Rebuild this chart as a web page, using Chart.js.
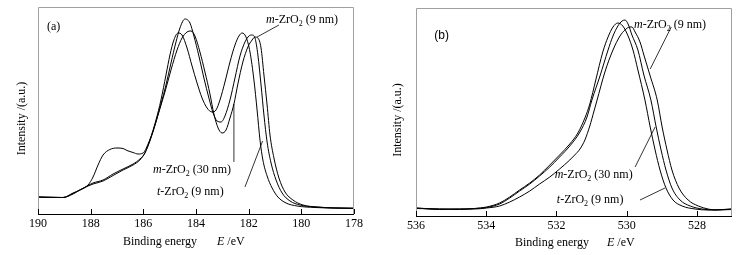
<!DOCTYPE html>
<html><head><meta charset="utf-8">
<script src="https://cdn.jsdelivr.net/npm/chart.js@4/dist/chart.umd.min.js"></script>
<style>
html,body{margin:0;padding:0;background:#fff;width:742px;height:255px;overflow:hidden}
#ca{position:absolute;left:0;top:0}
#cb{position:absolute;left:370px;top:0}
</style></head><body>
<canvas id="ca" width="370" height="255"></canvas>
<canvas id="cb" width="372" height="255"></canvas>
<script>
// ---------- tick labels ----------
const ticksA = [190, 188, 186, 184, 182, 180, 178];
const ticksB = [536, 534, 532, 530, 528];

// ---------- series labels ----------
const seriesNames = ['t-ZrO2 (9 nm)', 'm-ZrO2 (30 nm)', 'm-ZrO2 (9 nm)'];

// ---------- panel (a): Zr 3d ----------
const a1E = [190.00,189.54,189.05,188.67,188.41,188.10,187.91,187.53,187.15,186.77,186.39,186.13,185.94,185.75,185.52,185.33,185.14,184.99,184.84,184.68,184.53,184.34,184.15,183.96,183.77,183.58,183.39,183.24,183.09,182.90,182.71,182.52,182.37,182.25,182.10,181.95,181.80,181.68,181.57,181.46,181.30,181.11,180.89,180.58,180.16,179.48,178.72,178.00];
const a1I = [17,16.5,16.5,20,24,28.5,31,34,40,45,50,55,61,74,94,114,139,159,174,181,179,166,148,131,116,106,102,104,114,132,152,169,178,181,177,162,134,104,74,54,38,26,17,11,8,6.5,6,6];

const a2E = [190.00,189.54,189.05,188.67,188.41,188.10,187.91,187.53,187.15,186.77,186.39,186.13,185.94,185.75,185.52,185.33,185.14,184.95,184.76,184.61,184.42,184.23,184.08,183.89,183.70,183.51,183.35,183.20,183.05,182.90,182.71,182.52,182.33,182.14,181.99,181.87,181.76,181.65,181.53,181.42,181.30,181.15,180.96,180.73,180.43,180.05,179.48,178.72,178.00];
const a2I = [17,16.5,16.5,20.5,24,28,30,33,38.5,44,49,54,61,73,92,110,129,151,172,186,195,191,178,158,136,116,101,93,92,98,114,136,158,172,178,179,176,159,129,99,72,51,34,21,13,9,7,6,5.5];

const a3E = [190.00,189.54,189.05,188.67,188.41,188.10,187.91,187.72,187.53,187.27,187.00,186.77,186.62,186.39,186.20,186.01,185.82,185.63,185.41,185.18,184.95,184.72,184.53,184.34,184.19,184.04,183.85,183.66,183.47,183.32,183.16,183.01,182.86,182.71,182.56,182.41,182.22,182.03,181.87,181.76,181.65,181.53,181.42,181.30,181.19,181.04,180.85,180.62,180.32,179.94,179.37,178.72,178.00];
const a3I = [17,17,16.5,21,24,29,37,49,59,64.5,66,65.5,63.5,61.5,60,61,70,83,102,122,144,164,176,182,183,178,162,142,120,100,86,81,84,96,110,130,152,167,174,177,176,166,139,109,79,56,36,22,14,9,7,6,5.5];

// ---------- panel (b): O 1s ----------
const b1E = [536.00,535.33,534.76,534.33,533.99,533.62,533.33,533.05,532.76,532.48,532.19,531.91,531.62,531.39,531.19,531.05,530.88,530.68,530.53,530.39,530.25,530.11,529.96,529.82,529.68,529.48,529.33,529.19,529.05,528.88,528.68,528.42,528.05,527.68,527.00];
const b1I = [8,7,7,7.5,9,13,19,26,33,41,51,61,72,83,98,112,136,164,179,189,193,190,180,166,146,116,89,66,46,28,16,10,7,6,7];

const b2E = [536.00,535.33,534.76,534.33,533.99,533.62,533.33,533.05,532.76,532.48,532.19,531.91,531.62,531.33,531.13,530.99,530.76,530.53,530.39,530.25,530.13,530.05,529.96,529.85,529.68,529.51,529.31,529.16,529.02,528.88,528.71,528.48,528.19,527.85,527.48,527.00];
const b2I = [7.5,7,6.5,7.5,8.5,12,18,25,32,40,49,59,70,84,99,116,140,166,180,190,195,196,192,181,166,141,116,89,66,46,28,16,10,7,6,6.5];

const b3E = [536.00,535.33,534.76,534.33,533.99,533.62,533.33,533.05,532.76,532.48,532.19,531.91,531.62,531.48,531.33,531.19,531.05,530.93,530.85,530.62,530.39,530.19,530.05,529.91,529.85,529.76,529.62,529.51,529.33,529.13,528.99,528.85,528.71,528.51,528.25,527.96,527.68,527.48,527.00];
const b3I = [8,6.5,7,7,8,10,14,19,25,32,39,47,56,61,67,76,90,105,115,144,166,180,186,189,189,184,174,161,140,116,89,66,46,28,16,10,7,6,7];

// ---------- annotations (data coordinates) ----------
// text anchors: [x, y] ; leader lines: [x1, y1, x2, y2]
const annA = [
  {prefix:'m', size:'9 nm',  at:[181.34, 194], line:[180.85, 189, 181.68, 177]},
  {prefix:'m', size:'30 nm', at:[185.63, 44],  line:[182.56, 52, 182.56, 110]},
  {prefix:'t', size:'9 nm',  at:[185.48, 22],  line:[182.14, 27, 181.47, 73]}
];
const annB = [
  {prefix:'m', size:'9 nm',  at:[529.79, 191], line:[528.73, 189, 529.33, 147]},
  {prefix:'m', size:'30 nm', at:[532.05, 41],  line:[529.76, 49, 529.19, 89]},
  {prefix:'t', size:'9 nm',  at:[531.99, 16],  line:[529.62, 16, 528.91, 28]}
];
const panelA = {tag:'(a)', at:[189.66, 187], sans:false};
const panelB = {tag:'(b)', at:[535.48, 180], sans:true};

const SERIF = '"Liberation Serif","Times New Roman",serif';
const SANS = '"Liberation Sans",Arial,sans-serif';
const FS = 12;

function richText(ctx, x, y, runs) {
  let cx = x;
  ctx.textBaseline = 'middle';
  ctx.textAlign = 'left';
  for (const r of runs) {
    const fs = r.sub ? 8 : FS;
    ctx.font = (r.it ? 'italic ' : '') + fs + 'px ' + SERIF;
    ctx.fillText(r.t, cx, y + (r.sub ? 4 : 0));
    cx += ctx.measureText(r.t).width;
  }
}
function zrRuns(prefix, size) {
  return [{t:prefix, it:true}, {t:'-ZrO'}, {t:'2', sub:true}, {t:' (' + size + ')'}];
}

function makeDecor(ann, panel, xTitle, yTitleX) {
  return {
    id: 'decor',
    afterDraw(chart) {
      const {ctx, chartArea: ca, scales: {x, y}} = chart;
      ctx.save();
      // frame
      ctx.lineWidth = 1;
      ctx.strokeStyle = '#a0a0a0';
      ctx.beginPath();
      ctx.moveTo(ca.left + 0.5, ca.bottom);
      ctx.lineTo(ca.left + 0.5, ca.top + 0.5);
      ctx.lineTo(ca.right - 0.5, ca.top + 0.5);
      ctx.lineTo(ca.right - 0.5, ca.bottom);
      ctx.stroke();
      ctx.strokeStyle = '#000';
      ctx.beginPath();
      ctx.moveTo(ca.left, ca.bottom + 0.5);
      ctx.lineTo(ca.right, ca.bottom + 0.5);
      // inward ticks
      x.ticks.forEach(t => {
        const px = Math.round(x.getPixelForValue(t.value)) + 0.5;
        ctx.moveTo(px, ca.bottom);
        ctx.lineTo(px, ca.bottom - 5);
      });
      ctx.stroke();
      ctx.fillStyle = '#000';
      // panel tag
      ctx.font = FS + 'px ' + (panel.sans ? SANS : SERIF);
      ctx.textBaseline = 'middle';
      ctx.textAlign = 'left';
      ctx.fillText(panel.tag, x.getPixelForValue(panel.at[0]), y.getPixelForValue(panel.at[1]));
      // annotations
      ctx.strokeStyle = '#000';
      ctx.lineWidth = 0.8;
      ann.forEach(a => {
        richText(ctx, x.getPixelForValue(a.at[0]), y.getPixelForValue(a.at[1]), zrRuns(a.prefix, a.size));
        ctx.beginPath();
        ctx.moveTo(x.getPixelForValue(a.line[0]), y.getPixelForValue(a.line[1]));
        ctx.lineTo(x.getPixelForValue(a.line[2]), y.getPixelForValue(a.line[3]));
        ctx.stroke();
      });
      // x title
      const ty = xTitle.y;
      richText(ctx, xTitle.x0, ty, [{t:'Binding energy'}]);
      richText(ctx, xTitle.x1, ty, [{t:'E', it:true}, {t:' /eV'}]);
      // y title
      ctx.translate(yTitleX, (ca.top + ca.bottom) / 2 + 8);
      ctx.rotate(-Math.PI / 2);
      ctx.font = FS + 'px ' + SERIF;
      ctx.textAlign = 'center';
      ctx.textBaseline = 'middle';
      ctx.fillText('Intensity /(a.u.)', 0, 0);
      ctx.restore();
    }
  };
}

function ds(label, E, I) {
  return {
    label: label,
    data: E.map((e, i) => ({x: e, y: I[i]})),
    borderColor: '#000',
    borderWidth: 1,
    pointRadius: 0,
    fill: false,
    cubicInterpolationMode: 'monotone'
  };
}

function makeChart(id, datasets, xmin, xmax, ymax, tickVals, yWidth, xHeight, pad, decor) {
  return new Chart(document.getElementById(id), {
    type: 'line',
    data: {datasets: datasets},
    options: {
      responsive: false,
      animation: false,
      devicePixelRatio: 1,
      layout: {padding: pad},
      plugins: {legend: {display: false}, tooltip: {enabled: false}},
      scales: {
        x: {
          type: 'linear', reverse: true, min: xmin, max: xmax,
          afterBuildTicks: s => { s.ticks = tickVals.map(v => ({value: v})); },
          afterFit: s => { s.height = xHeight; },
          ticks: {color: '#000', font: {family: SERIF, size: FS}, padding: 3, maxRotation: 0, autoSkip: false},
          grid: {display: false, drawTicks: false},
          border: {display: false}
        },
        y: {
          min: 0, max: ymax,
          afterFit: s => { s.width = yWidth; },
          ticks: {display: false},
          grid: {display: false, drawTicks: false},
          border: {display: false}
        }
      }
    },
    plugins: [decor]
  });
}

makeChart('ca',
  [ds(seriesNames[0], a1E, a1I), ds(seriesNames[1], a2E, a2I), ds(seriesNames[2], a3E, a3I)],
  178, 190, 207, ticksA, 38, 41, {top: 7, right: 16, left: 0, bottom: 0},
  makeDecor(annA, panelA, {x0: 123, x1: 217, y: 242}, 22));

makeChart('cb',
  [ds(seriesNames[0], b1E, b1I), ds(seriesNames[1], b2E, b2I), ds(seriesNames[2], b3E, b3I)],
  527, 536, 208, ticksB, 46, 39, {top: 8, right: 10, left: 0, bottom: 0},
  makeDecor(annB, panelB, {x0: 145, x1: 237, y: 243}, 28));
</script>
</body></html>
